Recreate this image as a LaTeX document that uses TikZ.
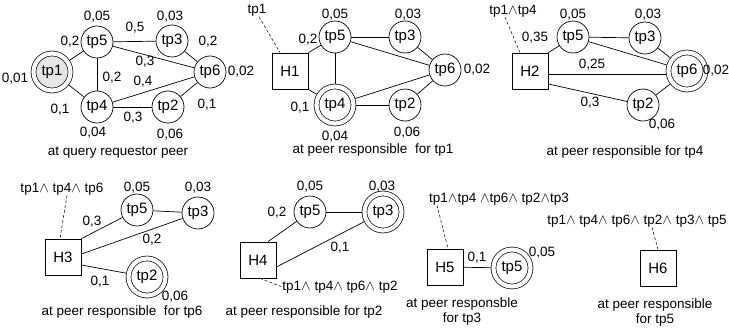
\documentclass[tikz,border=0pt]{standalone}
\usepackage{fontspec}
\setmainfont{Liberation Sans}
\newcommand{\wdg}{\ensuremath{\wedge}}
\tikzset{
 tpn/.style={circle, draw, line width=0.7pt, minimum size=32pt, inner sep=0pt, font=\fontsize{15}{15}\selectfont},
 dtpn/.style={tpn, double, double distance=4.2pt, minimum size=37pt, outer sep=2.8pt},
 hbox/.style={rectangle, draw, line width=0.8pt, minimum size=36pt, inner sep=0pt, font=\fontsize{15}{15}\selectfont},
 lbl/.style={inner sep=0pt, font=\fontsize{13.5}{13.5}\selectfont},
 captxt/.style={inner sep=0pt, align=center, font=\fontsize{13.5}{15}\selectfont},
 edge/.style={line width=0.7pt},
 dsh/.style={densely dashed, line width=0.5pt},
}
\begin{document}
\begin{tikzpicture}[x=1pt, y=-1pt]
\useasboundingbox (0,0) rectangle (729,332);
% ---------- graph 1: at query requestor peer
\node[dtpn, fill=black!10] (a1) at (52,72) {tp1};
\node[tpn] (a5) at (97,42) {tp5};
\node[tpn] (a3) at (172,41) {tp3};
\node[tpn] (a6) at (210,72) {tp6};
\node[tpn] (a4) at (97,107) {tp4};
\node[tpn] (a2) at (168,107) {tp2};
\draw[edge] (a1) -- (a5);
\draw[edge] (a1) -- (a4);
\draw[edge] (a5) -- (a3);
\draw[edge] (a5) -- (a6);
\draw[edge] (a5) -- (a4);
\draw[edge] (a4) -- (a6);
\draw[edge] (a4) -- (a2);
\draw[edge] (a3) -- (a6);
\draw[edge] (a2) -- (a6);
\node[lbl] (a05) at (97,17) {0,05};
\node[lbl] (a03) at (170,17) {0,03};
\node[lbl] (a5w) at (135,28) {0,5};
\node[lbl] (a2w) at (70,42) {0,2};
\node[lbl] (a01) at (15,79) {0,01};
\node[lbl] (a2v) at (208,42) {0,2};
\node[lbl] (a3w) at (145,62) {0,3};
\node[lbl] (a2m) at (112,78) {0,2};
\node[lbl] (a4w) at (143,82) {0,4};
\node[lbl] (a02) at (241,72) {0,02};
\node[lbl] (a1w) at (60,110) {0,1};
\node[lbl] (a1v) at (207,105) {0,1};
\node[lbl] (a3v) at (133,118) {0,3};
\node[lbl] (a04) at (93,133) {0,04};
\node[lbl] (a06) at (170,135) {0,06};
\node[captxt] (acap) at (118,153) {at query requestor peer};
% ---------- graph 2: tp1
\node[hbox] (H1) at (290,71) {H1};
\node[tpn] (b5) at (335,37) {tp5};
\node[tpn] (b3) at (405,37) {tp3};
\node[tpn] (b6) at (445,70) {tp6};
\node[dtpn] (b4) at (335,105) {tp4};
\node[tpn] (b2) at (405,105) {tp2};
\draw[edge] (H1.north east) -- (b5);
\draw[edge] (H1.south east) -- (b4);
\draw[edge] (b5) -- (b3);
\draw[edge] (b5) -- (b6);
\draw[edge] (b5) -- (b4);
\draw[edge] (b4) -- (b6);
\draw[edge] (b4) -- (b2);
\draw[edge] (b3) -- (b6);
\draw[edge] (b2) -- (b6);
\node[lbl] (L1) at (257,10.5) {tp1};
\draw[dsh] ([xshift=2pt]L1.south) -- ([xshift=-10pt]H1.north);
\node[lbl] (b05) at (335,15) {0,05};
\node[lbl] (b03) at (408,15) {0,03};
\node[lbl] (b2w) at (308,40) {0,2};
\node[lbl] (b02) at (477,70) {0,02};
\node[lbl] (b1w) at (300,108) {0,1};
\node[lbl] (b04) at (335,137) {0,04};
\node[lbl] (b06) at (407,133) {0,06};
\node[captxt] (bcap) at (373,150) {at peer responsible\ \ for tp1};
% ---------- graph 3: tp4
\node[hbox] (H2) at (530,71) {H2};
\node[tpn] (c5) at (573,37) {tp5};
\node[tpn] (c3) at (645,38) {tp3};
\node[dtpn] (c6) at (687,71) {tp6};
\node[tpn] (c2) at (643,105) {tp2};
\draw[edge] (H2.north east) -- (c5);
\draw[edge] ([yshift=-3pt]H2.east) -- ([yshift=-3pt]c6.west);
\draw[edge] ([yshift=-13pt]H2.east) -- (c2);
\draw[edge] (c5) -- (c3);
\draw[edge] (c5) -- (c6);
\draw[edge] (c3) -- (c6);
\draw[edge] (c2) -- (c6);
\node[lbl] (L2) at (513,11) {tp1\wdg tp4};
\draw[dsh] ([xshift=-8pt]L2.south) -- ([xshift=-10pt]H2.north);
\node[lbl] (c35) at (535,38) {0,35};
\node[lbl] (c05) at (573,15) {0,05};
\node[lbl] (c03) at (648,15) {0,03};
\node[lbl] (c25) at (592,65) {0,25};
\node[lbl] (c02) at (716,71) {0,02};
\node[lbl] (c3w) at (590,103) {0,3};
\node[lbl] (c06) at (662,125) {0,06};
\node[captxt] (ccap) at (625,152) {at peer responsible for tp4};
% ---------- graph 4: tp6
\node[hbox] (H3) at (63,257) {H3};
\node[tpn] (d5) at (137,210) {tp5};
\node[tpn] (d3) at (198,213) {tp3};
\node[dtpn] (d2) at (147,277) {tp2};
\draw[edge] (H3.north east) -- (d5);
\draw[edge] ([yshift=3pt]H3.east) -- (d3);
\draw[edge] ([yshift=-8pt]H3.east) -- (d2);
\draw[edge] (d5) -- (d3);
\node[lbl] (L3) at (62,189) {tp1\wdg\ tp4\wdg\ tp6};
\draw[dsh] ([xshift=5pt]L3.south) -- ([xshift=-3pt]H3.north);
\node[lbl] (d05) at (137,188) {0,05};
\node[lbl] (d03) at (198,188) {0,03};
\node[lbl] (d3w) at (92,222) {0,3};
\node[lbl] (d2w) at (152,240) {0,2};
\node[lbl] (d1w) at (100,282) {0,1};
\node[lbl] (d06) at (175,297) {0,06};
\node[captxt] (dcap) at (122,312) {at peer responsible\ \ for tp6};
% ---------- graph 5: tp2
\node[hbox] (H4) at (258,260) {H4};
\node[tpn] (e5) at (310,212) {tp5};
\node[dtpn] (e3) at (383,212) {tp3};
\draw[edge] ([xshift=10pt]H4.north) -- (e5);
\draw[edge] ([yshift=-7pt]H4.east) -- (e3);
\draw[edge] (e5) -- (e3);
\node[lbl] (L4) at (340,287) {tp1\wdg\ tp4\wdg\ tp6\wdg\ tp2};
\draw[dsh] ([xshift=2pt]H4.south) -- (L4.west);
\node[lbl] (e05) at (310,187) {0,05};
\node[lbl] (e03) at (382,187) {0,03};
\node[lbl] (e2w) at (277,213) {0,2};
\node[lbl] (e1w) at (340,248) {0,1};
\node[captxt] (ecap) at (304,312) {at peer responsible for tp2};
% ---------- graph 6: tp3
\node[hbox] (H5) at (445,267) {H5};
\node[dtpn] (f5) at (512,268) {tp5};
\draw[edge] (H5) -- (f5);
\node[lbl] (L5) at (499,199) {tp1\wdg tp4 \wdg tp6\wdg\ tp2\wdg tp3};
\draw[dsh] ([xshift=-62pt]L5.south) -- ([xshift=3pt]H5.north);
\node[lbl] (f1w) at (477,258) {0,1};
\node[lbl] (f05) at (542,253) {0,05};
\node[captxt] (fcap) at (462,312) {at peer responsble\\for tp3};
% ---------- graph 7: tp5
\node[hbox] (H6) at (658,268) {H6};
\node[lbl] (L6) at (637,221) {tp1\wdg\ tp4\wdg\ tp6\wdg\ tp2\wdg\ tp3\wdg\ tp5};
\draw[dsh] ([xshift=15pt]L6.south) -- (H6.north);
\node[captxt] (gcap) at (655,313) {at peer responsible\\for tp5};
\end{tikzpicture}
\end{document}
